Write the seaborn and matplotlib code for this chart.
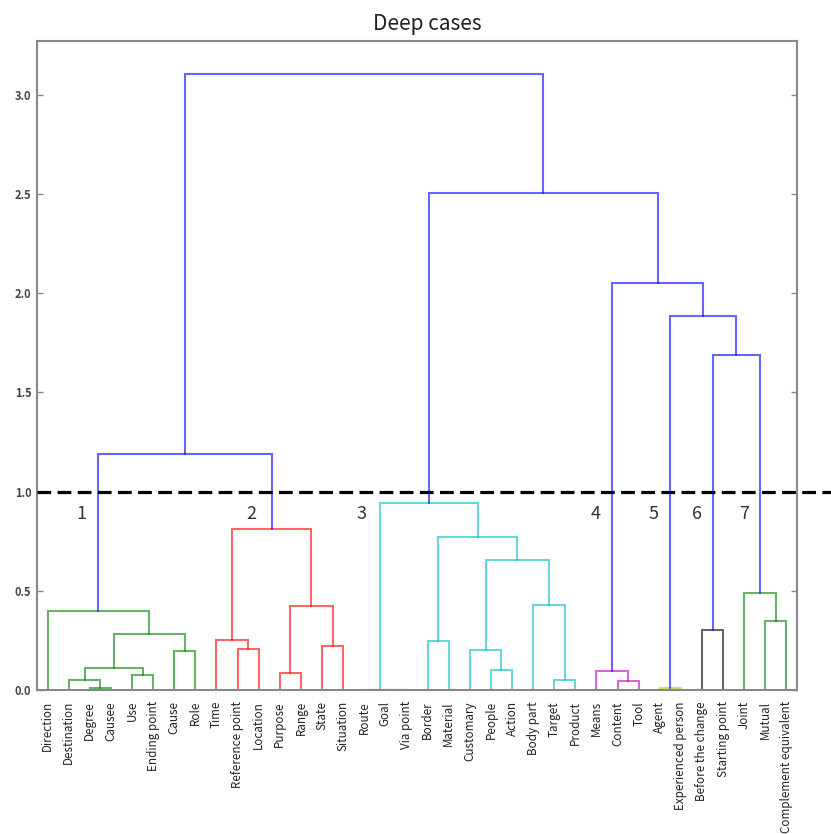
import matplotlib
matplotlib.use("Agg")
import matplotlib.pyplot as plt
import seaborn as sns

# ---------------- data ----------------
leaf_labels = [
    "Direction", "Destination", "Degree", "Causee", "Use", "Ending point", "Cause", "Role",
    "Time", "Reference point", "Location", "Purpose", "Range", "State", "Situation",
    "Route", "Goal", "Via point", "Border", "Material", "Customary", "People", "Action",
    "Body part", "Target", "Product", "Means", "Content", "Tool", "Agent",
    "Experienced person", "Before the change", "Starting point", "Joint", "Mutual",
    "Complement equivalent",
]
n_leaves = len(leaf_labels)

# merges: children indices (leaf index < 36, merge k -> 36 + k) and merge heights
merge_left = [
    2, 1, 4, 37, 6, 39, 0,            # cluster 1
    9, 8, 11, 13, 45, 44, 42,         # cluster 2, join 1+2
    16, 15, 18, 21, 20, 24, 23, 54, 52, 51,   # cluster 3
    27, 26,                           # cluster 4
    29,                               # cluster 5
    31,                               # cluster 6
    34, 33,                           # cluster 7
    63, 62, 61, 59, 49,               # upper links
]
merge_right = [
    3, 36, 5, 38, 7, 40, 41,
    10, 43, 12, 14, 46, 47, 48,
    17, 50, 19, 22, 53, 25, 55, 56, 57, 58,
    28, 60,
    30,
    32,
    35, 64,
    65, 66, 67, 68, 69,
]
merge_height = [
    0.012, 0.050, 0.078, 0.112, 0.195, 0.284, 0.400,
    0.208, 0.252, 0.086, 0.220, 0.425, 0.810, 1.190,
    0.000, 0.000, 0.245, 0.102, 0.200, 0.050, 0.428, 0.653, 0.772, 0.940,
    0.045, 0.097,
    0.012,
    0.300,
    0.347, 0.490,
    1.690, 1.882, 2.052, 2.506, 3.105,
]
threshold = 1.0
cluster_names = ["1", "2", "3", "4", "5", "6", "7"]

# ---------------- style ----------------
sns.set_theme(style="white")
plt.rcParams["font.family"] = ["Noto Sans CJK JP", "DejaVu Sans"]

# classic matplotlib single-letter colours (g, r, c, m, y, k) and b
palette = ["#008000", "#ff0000", "#00bfbf", "#bf00bf", "#bfbf00", "#000000"]
above_color = "#0000ff"

fig = plt.figure(figsize=(8.31, 8.34), dpi=100)
ax = fig.add_axes([37 / 831, 1 - 690 / 834, 760 / 831, 649 / 834])

# ---------------- layout of the tree ----------------
pos = {i: 10 * i + 5 for i in range(n_leaves)}
hgt = {i: 0.0 for i in range(n_leaves)}
for k, (a, b, h) in enumerate(zip(merge_left, merge_right, merge_height)):
    pos[n_leaves + k] = (pos[a] + pos[b]) / 2
    hgt[n_leaves + k] = h

parent = {}
for k, (a, b) in enumerate(zip(merge_left, merge_right)):
    parent[a] = n_leaves + k
    parent[b] = n_leaves + k

# colour assignment like scipy: each below-threshold subtree whose parent is above
colors = {}
cluster_roots = []
for k in range(len(merge_height)):
    node = n_leaves + k
    h = merge_height[k]
    p = parent.get(node)
    if h < threshold and (p is None or hgt[p] >= threshold):
        cluster_roots.append(node)
cluster_roots.sort(key=lambda n: pos[n])


def members(node):
    if node < n_leaves:
        return [node]
    k = node - n_leaves
    return members(merge_left[k]) + members(merge_right[k]) + [node]


for ci, root in enumerate(cluster_roots):
    col = palette[ci % len(palette)]
    for m in members(root):
        if m >= n_leaves:
            colors[m] = col

for k, (a, b, h) in enumerate(zip(merge_left, merge_right, merge_height)):
    node = n_leaves + k
    col = colors.get(node, above_color)
    xs = [pos[a], pos[a], pos[b], pos[b]]
    ys = [hgt[a], h, h, hgt[b]]
    ax.plot(xs, ys, color=col, lw=1.5, alpha=0.6, solid_joinstyle="miter")

# threshold line
ax.plot([0, 380], [threshold, threshold], color="black", lw=2.3, ls=(0, (4.3, 2.0)),
        clip_on=False, zorder=5)

# cluster numbers
label_x = [21.2, 101.7, 153.8, 264.6, 291.9, 312.5, 334.9]
for name, lx in zip(cluster_names, label_x):
    ax.text(lx, 0.885, name, ha="center", va="center", fontsize=13, color="#333333")

ax.set_xlim(0, 10 * n_leaves)
ax.set_ylim(0, 3.105 * 1.053)
ax.set_xticks([pos[i] for i in range(n_leaves)])
ax.set_xticklabels(leaf_labels, rotation=90, fontsize=8.4, color="#222222")
ax.set_yticks([0.0, 0.5, 1.0, 1.5, 2.0, 2.5, 3.0])
ax.set_yticklabels(["0.0", "0.5", "1.0", "1.5", "2.0", "2.5", "3.0"], fontsize=8,
                   color="#444444", fontweight="bold")
ax.tick_params(axis="x", bottom=False, top=False, pad=2)
ax.tick_params(axis="y", direction="in", left=True, right=True, length=4, width=1,
               color="#888888", pad=4)
for sp in ax.spines.values():
    sp.set_color("#888888")
    sp.set_linewidth(1.5)
    sp.set_visible(True)

ax.set_title("Deep cases", fontsize=15, color="#222222", pad=8, x=0.513)

fig.savefig("out.png", dpi=100)
